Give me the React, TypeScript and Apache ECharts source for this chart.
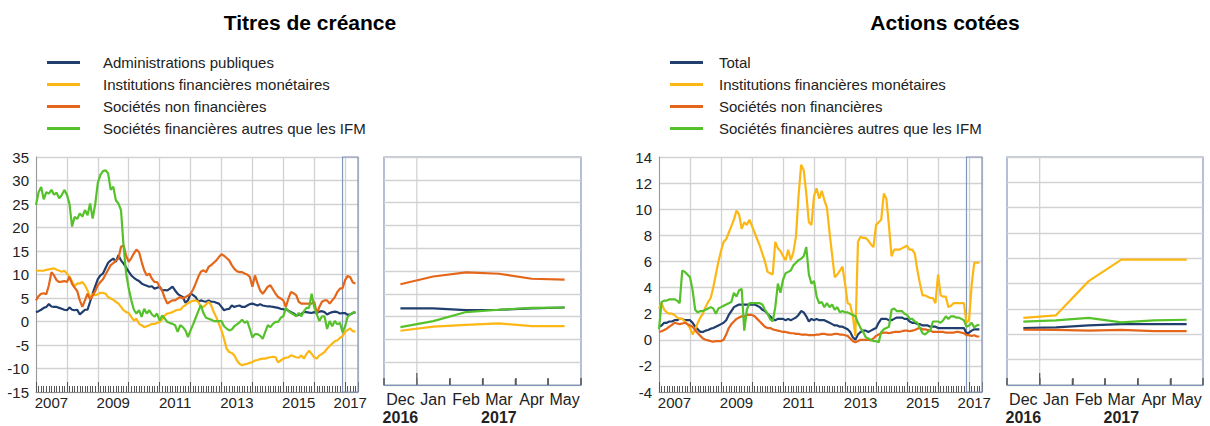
import React, { useEffect, useRef } from "react";
import * as echarts from "echarts";

// ---- axes / categories ----
const startYear = 2007; // month index 0 = Jan 2007, index 124 = May 2017
const axisMonths = 125;
const yearLabelMonths = [6, 30, 54, 78, 102, 122];
const recentMonths = ["Dec", "Jan", "Feb", "Mar", "Apr", "May"];
const recentYearLabels: Record<string, string> = { Dec: "2016", Mar: "2017" };
const highlightStart = 119; // Dec 2016
const yearBoundary = 119.5; // between Dec 2016 and Jan 2017 in the zoomed panel
const monthBoundaries = recentMonths.slice(1).map((_, i) => highlightStart + i + 0.5);

const debtNames = [
  "Administrations publiques",
  "Institutions financières monétaires",
  "Sociétés non financières",
  "Sociétés financières autres que les IFM",
];
const equityNames = [
  "Total",
  "Institutions financières monétaires",
  "Sociétés non financières",
  "Sociétés financières autres que les IFM",
];
const colors = ["#213f6e", "#fdb714", "#e3661a", "#56c22b"];

// ---- Titres de créance (monthly, Jan 2007 - May 2017) ----
const debtGov = [
  2.0, 2.2, 2.5, 2.9, 3.1, 3.7, 3.2, 3.1, 3.1, 2.9,
  2.7, 2.5, 2.4, 3.0, 2.5, 2.4, 2.5, 1.5, 2.0, 2.5,
  2.5, 4.2, 6.0, 7.5, 9.0, 9.8, 10.2, 11.4, 12.5, 13.0,
  13.4, 12.7, 14.1, 13.0, 12.3, 11.5, 10.6, 9.8, 9.3, 8.9,
  8.6, 8.1, 7.8, 7.6, 7.4, 7.5, 7.0, 7.2, 7.4, 6.6,
  6.7, 6.6, 7.0, 7.4, 6.6, 5.9, 5.5, 5.2, 4.0, 4.5,
  6.0, 5.6, 5.2, 4.2, 4.5, 4.3, 4.2, 4.5, 4.2, 4.2,
  4.0, 3.8, 3.1, 2.4, 2.6, 2.7, 3.4, 3.1, 3.3, 3.4,
  3.1, 3.1, 3.4, 3.7, 3.8, 3.6, 3.4, 3.7, 3.4, 3.3,
  3.2, 3.2, 3.1, 3.0, 2.9, 2.7, 2.6, 2.6, 2.3, 2.0,
  1.7, 1.3, 1.4, 1.6, 2.0, 2.0, 1.9, 1.8, 2.0, 1.8,
  2.1, 2.2, 2.0, 1.5, 1.8, 2.0, 2.1, 2.0, 1.7, 1.8,
  1.8, 1.4, 1.5, 1.8, 2.0,
];
const debtMfi = [
  10.9, 10.8, 10.8, 10.8, 11.0, 11.1, 11.2, 11.3, 11.0, 10.8,
  10.6, 10.8, 10.2, 9.5, 8.5, 7.5, 8.1, 8.1, 8.4, 7.7,
  6.6, 5.2, 5.9, 5.6, 5.8, 6.1, 6.1, 5.9, 5.2, 4.9,
  4.6, 4.2, 3.8, 3.1, 2.4, 2.0, 1.8, 1.0, 0.2, 0.6,
  -0.5, -0.8, -1.2, -1.0, -0.8, -0.5, -0.5, -0.3, -0.1, 0.5,
  1.3, 1.7, 1.8, 2.0, 2.3, 2.5, 2.5, 3.1, 3.5, 3.9,
  4.2, 4.4, 4.5, 4.2, 3.1, 3.1, 3.6, 4.2, 3.5, 2.0,
  0.9, -0.5, -1.9, -3.7, -5.8, -6.5, -6.7, -7.2, -8.3, -9.0,
  -9.3, -9.1, -9.0, -8.8, -8.6, -8.3, -8.2, -8.0, -7.9, -7.9,
  -7.7, -7.6, -7.5, -7.6, -8.7, -8.3, -7.9, -7.7, -7.6, -7.2,
  -7.4, -7.6, -7.7, -7.2, -7.9, -6.9, -6.2, -6.9, -7.6, -7.9,
  -7.2, -6.9, -6.5, -5.8, -5.2, -4.7, -4.2, -4.0, -3.5, -3.1,
  -2.2, -1.8, -1.5, -2.1, -2.1,
];
const debtNfc = [
  4.5, 5.4, 5.9, 6.0, 5.8, 7.7, 10.5, 9.8, 8.8, 8.4,
  8.5, 8.6, 8.4, 9.5, 8.0, 7.2, 6.5, 4.5, 3.1, 4.5,
  5.9, 4.7, 5.5, 6.5, 7.7, 8.4, 9.0, 10.0, 11.0, 12.0,
  12.4, 13.0, 13.4, 15.9, 16.2, 14.0, 12.7, 13.5, 14.5, 15.3,
  14.8, 12.7, 10.9, 9.8, 10.2, 9.1, 8.4, 8.4, 7.4, 6.5,
  5.0, 3.8, 4.2, 4.5, 4.5, 4.9, 5.2, 4.9, 5.2, 5.5,
  5.9, 6.8, 8.1, 9.5, 10.6, 10.9, 10.5, 11.6, 12.0, 12.5,
  13.0, 13.7, 14.3, 14.0, 13.5, 13.0, 12.0, 11.2, 10.7, 10.5,
  10.5, 10.2, 10.0, 9.5, 7.4, 9.8, 8.1, 6.6, 5.9, 6.6,
  7.4, 7.7, 6.8, 5.9, 5.2, 4.9, 4.5, 3.1, 4.9, 6.3,
  6.0, 5.6, 4.2, 3.8, 3.8, 3.8, 3.8, 3.8, 4.2, 1.7,
  3.1, 4.2, 4.5, 4.5, 3.8, 4.5, 5.2, 6.3, 7.0, 7.1,
  8.8, 9.7, 9.4, 8.3, 8.1,
];
const debtOfi = [
  24.8, 27.5, 28.6, 26.0, 27.5, 27.2, 28.0, 27.0, 27.4, 26.2,
  26.9, 28.0, 27.0, 25.0, 20.2, 22.3, 21.8, 23.0, 22.3, 23.7,
  22.6, 25.1, 21.9, 25.0, 29.5, 31.2, 32.0, 32.2, 31.5, 28.0,
  28.7, 25.8, 25.1, 23.7, 16.0, 10.2, 7.0, 4.5, 2.5, 1.7,
  2.4, 1.0, 2.7, 1.7, 2.4, 1.5, 1.0, 1.7, 0.2, 1.3,
  0.6, -0.1, -0.3, -0.5, -0.8, -2.2, -0.8, -1.2, -1.9, -3.3,
  -1.9, -0.6, 0.8, 2.2, 3.5, 1.8, 0.8, 0.6, 0.4, 0.1,
  0.1, 0.1, 0.1, -1.0, -1.5, -1.9, -1.7, -1.0, -0.6, -0.2,
  0.4, -0.3, 0.1, -1.6, -3.4, -2.7, -2.7, -3.0, -3.7, -2.2,
  -0.8, -1.2, -0.5, -0.1, -0.1, 0.8, 1.1, 2.9, 2.2, 1.8,
  1.5, 1.1, 1.8, 1.1, 2.2, 2.9, 2.9, 5.9, 3.1, 1.5,
  0.1, 1.1, 1.1, -1.6, 0.1, -1.0, 0.1, -0.6, -0.3, -2.3,
  -1.0, 1.0, 1.5, 1.9, 2.0,
];

// ---- Actions cotées (monthly, Jan 2007 - May 2017) ----
const eqTotal = [
  1.0, 1.1, 1.3, 1.3, 1.4, 1.4, 1.5, 1.5, 1.6, 1.6,
  1.5, 1.5, 1.5, 1.3, 1.0, 0.8, 0.6, 0.6, 0.7, 0.75,
  0.85, 0.9, 1.0, 1.1, 1.2, 1.3, 1.5, 1.9, 2.2, 2.5,
  2.6, 2.7, 2.7, 2.7, 2.7, 2.7, 2.7, 2.7, 2.6, 2.5,
  2.3, 2.2, 2.0, 1.8, 1.6, 1.5, 1.6, 1.6, 1.6, 1.5,
  1.6, 1.5, 1.6, 1.7, 1.9, 2.2, 2.1, 1.8, 1.4, 1.6,
  1.5, 1.6, 1.5, 1.5, 1.5, 1.4, 1.3, 1.2, 1.1, 1.1,
  1.0, 1.0, 0.9, 0.8, 0.6, 0.2, 0.0, 0.4, 0.6, 0.7,
  0.7, 0.6, 0.7, 0.8, 0.9, 1.3, 1.6, 1.6, 1.6, 1.5,
  1.5, 1.6, 1.7, 1.7, 1.7, 1.6, 1.6, 1.4, 1.3, 1.3,
  1.2, 1.2, 1.1, 1.1, 1.1, 1.0, 1.0, 1.0, 0.9, 0.9,
  0.9, 0.9, 0.9, 0.9, 0.9, 0.9, 0.9, 0.9, 0.9, 0.5,
  0.55, 0.7, 0.8, 0.8, 0.8,
];
const eqMfi = [
  2.4, 2.8, 2.3, 2.1, 2.0, 2.0, 1.9, 1.7, 1.6, 1.6,
  1.4, 1.2, 0.9, 0.4, 0.8, 1.3, 1.7, 2.0, 2.5, 2.9,
  3.2, 4.0, 5.0, 6.0, 6.8, 7.5, 7.7, 8.2, 8.7, 9.2,
  9.9, 9.6, 8.5, 9.0, 8.8, 9.2, 8.7, 8.2, 7.7, 7.2,
  6.6, 6.0, 5.2, 5.1, 5.0, 7.5, 7.0, 6.8, 6.4, 6.1,
  6.9, 6.1, 6.7, 7.9, 11.0, 13.4, 13.0, 11.2, 9.0, 8.8,
  11.0, 11.6, 10.8, 11.4, 10.7, 10.1, 8.2, 6.5, 4.8, 5.0,
  5.3, 5.6, 4.3, 2.8, 2.7, 1.8, 0.3, 7.5, 7.9, 7.8,
  7.8, 7.6, 7.3, 7.1, 8.8, 9.0, 9.2, 11.2, 10.8, 8.7,
  6.4, 6.9, 6.9, 6.9, 7.0, 7.1, 7.2, 6.9, 6.9, 6.6,
  5.3, 4.3, 3.4, 3.4, 3.3, 3.2, 3.2, 2.8, 5.0, 3.4,
  3.3, 3.3, 2.5, 2.6, 2.8, 2.8, 2.8, 2.8, 2.8, 1.3,
  1.5, 4.2, 5.9, 5.9, 5.9,
];
const eqNfc = [
  0.6, 0.65, 0.75, 0.85, 1.0, 1.15, 1.3, 1.25, 1.2, 1.25,
  1.3, 1.2, 1.1, 1.0, 0.75, 0.5, 0.3, 0.1, 0.0, -0.05,
  -0.1, -0.15, -0.1, -0.1, -0.1, 0.0, 0.4, 0.9, 1.2, 1.4,
  1.6, 1.7, 1.8, 1.8, 1.9, 1.9, 1.9, 1.8, 1.6, 1.4,
  1.2, 1.0, 0.9, 0.9, 0.8, 0.75, 0.7, 0.65, 0.6, 0.6,
  0.55, 0.5, 0.5, 0.45, 0.45, 0.4, 0.4, 0.4, 0.35, 0.35,
  0.35, 0.4, 0.4, 0.45, 0.45, 0.4, 0.4, 0.4, 0.45, 0.45,
  0.4, 0.4, 0.35, 0.3, 0.1, -0.1, -0.2, -0.1, 0.0, 0.0,
  0.0, 0.0, -0.05, 0.1, 0.3, 0.4, 0.5, 0.55, 0.55, 0.5,
  0.55, 0.6, 0.6, 0.6, 0.65, 0.7, 0.7, 0.65, 0.7, 0.75,
  0.85, 0.9, 0.8, 0.8, 0.75, 0.7, 0.6, 0.6, 0.6, 0.6,
  0.6, 0.55, 0.55, 0.55, 0.55, 0.6, 0.6, 0.55, 0.5, 0.36,
  0.35, 0.3, 0.35, 0.25, 0.25,
];
const eqOfi = [
  0.8, 2.9, 3.0, 3.0, 3.1, 3.1, 3.1, 3.0, 2.8, 5.3,
  5.2, 5.0, 4.8, 3.8, 2.3, 2.1, 2.2, 2.2, 2.3, 2.4,
  2.5, 2.4, 2.0, 2.4, 2.5, 2.6, 2.7, 2.8, 2.9, 3.6,
  3.3, 3.8, 3.9, 0.7, 2.3, 2.8, 2.8, 2.8, 2.8, 2.8,
  2.7, 2.3, 2.0, 1.6, 1.4, 2.5, 4.3, 3.6, 4.6, 5.1,
  5.2, 5.3, 5.7, 5.9, 6.1, 6.2, 6.4, 7.1, 5.0, 4.3,
  4.5, 3.3, 2.8, 2.9, 2.5, 2.8, 2.5, 2.7, 2.3, 2.5,
  2.1, 2.2, 2.1, 2.1, 2.0, 1.9, 1.8, 1.3, 0.9, 0.6,
  0.2, 0.1, 0.0, -0.1, -0.1, -0.2, 0.6, 0.8, 0.9, 1.0,
  2.3, 2.4, 2.2, 2.2, 2.2, 2.0, 1.9, 1.6, 1.6, 1.4,
  1.3, 0.9, 0.5, 0.4, 0.6, 0.7, 1.4, 1.4, 1.4, 1.3,
  1.5, 1.8, 1.6, 1.8, 1.8, 1.7, 1.7, 1.6, 1.5, 1.0,
  1.1, 1.3, 0.95, 1.1, 1.15,
];

const debtSeries = [debtGov, debtMfi, debtNfc, debtOfi];
const equitySeries = [eqTotal, eqMfi, eqNfc, eqOfi];
const debtRange = [-15, 35, 5];
const equityRange = [-4, 14, 2];

const FONT = '"Liberation Sans", Arial, Helvetica, sans-serif';
const GRID_LINE = "#d2d2d2";
const BOX = "#8296b8";
const TICK = "#555";

function mainXAxis(gridIndex: number) {
  return {
    type: "value",
    gridIndex,
    min: 0,
    max: axisMonths,
    interval: 12,
    axisLine: { show: true, onZero: false, lineStyle: { color: "#8a8a8a", width: 1 } },
    axisTick: { show: true, inside: true, length: 10, lineStyle: { color: TICK, width: 1 } },
    minorTick: { show: true, splitNumber: 12, length: 6, lineStyle: { color: TICK, width: 1 } },
    splitLine: { show: true, lineStyle: { color: GRID_LINE, width: 1.3 } },
    axisLabel: {
      customValues: yearLabelMonths,
      formatter: (v: number) => String(startYear + Math.floor(v / 12)),
      fontSize: 15,
      color: "#222",
      margin: 3,
      fontFamily: FONT,
    },
  };
}

const recentLabel = (v: number) => {
  const name = recentMonths[Math.round(v) - highlightStart] || "";
  return recentYearLabels[name] ? `${name}\n{y|${recentYearLabels[name]}}` : name;
};

function smallXAxis(gridIndex: number) {
  return {
    type: "value",
    gridIndex,
    min: highlightStart - 0.5,
    max: highlightStart + recentMonths.length - 0.5,
    interval: 1,
    axisLine: { show: true, onZero: false, lineStyle: { color: BOX, width: 1.2 } },
    axisTick: { show: true, inside: true, length: 7, lineStyle: { color: TICK, width: 1.5 } },
    splitLine: { show: false },
    axisLabel: {
      customValues: recentMonths.map((_, i) => highlightStart + i),
      fontSize: 16,
      color: "#222",
      margin: 5,
      lineHeight: 18,
      fontFamily: FONT,
      formatter: recentLabel,
      rich: { y: { fontWeight: "bold", fontSize: 16, lineHeight: 18, color: "#222", fontFamily: FONT } },
    },
  };
}

function yAxis(gridIndex: number, range: number[], labels: boolean) {
  return {
    type: "value",
    gridIndex,
    min: range[0],
    max: range[1],
    interval: range[2],
    axisLine: { show: labels, onZero: false, lineStyle: { color: "#9a9a9a", width: 1 } },
    axisTick: { show: false },
    splitLine: { show: true, lineStyle: { color: GRID_LINE, width: 1.3 } },
    axisLabel: { show: labels, fontSize: 15, color: "#222", margin: 7, fontFamily: FONT },
  };
}

// month-boundary ticks + Dec/Jan year line of the zoomed panel, drawn through the axes' scales
function boundarySeries(xIdx: number, yIdx: number, range: number[]) {
  return {
    type: "custom",
    xAxisIndex: xIdx,
    yAxisIndex: yIdx,
    silent: true,
    z: 1,
    clip: false,
    data: monthBoundaries.map((b) => [b, range[0]]),
    encode: { x: 0, y: 1 },
    renderItem: (params: any, api: any) => {
      const x = api.value(0);
      const bottom = api.coord([x, range[0]]);
      const top = api.coord([x, range[1]]);
      const isYear = x === yearBoundary;
      const children: any[] = [];
      if (isYear) {
        children.push({
          type: "line",
          shape: { x1: bottom[0], y1: bottom[1], x2: top[0], y2: top[1] },
          style: { stroke: GRID_LINE, lineWidth: 1.3 },
        });
      }
      children.push({
        type: "line",
        shape: { x1: bottom[0], y1: bottom[1], x2: bottom[0], y2: bottom[1] - (isYear ? 12 : 6) },
        style: { stroke: TICK, lineWidth: 1.2 },
      });
      return { type: "group", children };
    },
  };
}

function buildSeries(names: string[], data: number[][], mainX: number, smallX: number, mainY: number) {
  const out: any[] = [];
  data.forEach((values, k) => {
    out.push({
      type: "line",
      name: names[k],
      xAxisIndex: mainX,
      yAxisIndex: mainY,
      data: values.map((v, i) => [i, v]),
      showSymbol: false,
      symbol: "none",
      color: colors[k],
      lineStyle: { color: colors[k], width: 2.2 },
      z: 2 + k,
      markArea:
        k === 0
          ? {
              silent: true,
              itemStyle: { color: "rgba(0,0,0,0)", borderColor: BOX, borderWidth: 1.2 },
              data: [[{ xAxis: highlightStart }, { xAxis: axisMonths }]],
            }
          : undefined,
    });
    out.push({
      type: "line",
      name: names[k],
      xAxisIndex: smallX,
      yAxisIndex: mainY + 1,
      data: values.slice(highlightStart).map((v, i) => [highlightStart + i, v]),
      showSymbol: false,
      symbol: "none",
      color: colors[k],
      lineStyle: { color: colors[k], width: 2.2 },
      z: 2 + k,
    });
  });
  return out;
}

function legend(names: string[], left: number, textGap: number) {
  return {
    data: names,
    orient: "vertical",
    left,
    top: 55,
    padding: 0,
    icon: "rect",
    itemWidth: 33,
    itemHeight: 3,
    itemGap: 7,
    selectedMode: false,
    textStyle: { fontSize: 15, color: "#222", fontFamily: FONT, padding: [0, 0, 0, textGap] },
  };
}

export default function App() {
  const ref = useRef<HTMLDivElement>(null);
  useEffect(() => {
    if (!ref.current) return;
    const chart = echarts.init(ref.current, undefined, { renderer: "svg" });
    const titleStyle = (text: string) => ({
      text,
      font: `bold 21px ${FONT}`,
      fill: "#000",
      align: "center",
      verticalAlign: "middle",
    });
    const option: any = {
      animation: false,
      textStyle: { fontFamily: FONT },
      grid: [
        { left: 36, top: 157, width: 322, height: 235 },
        { left: 384, top: 157, width: 197, height: 235, show: true, borderColor: BOX, borderWidth: 1.2 },
        { left: 659, top: 157, width: 323, height: 235 },
        { left: 1007, top: 157, width: 196, height: 235, show: true, borderColor: BOX, borderWidth: 1.2 },
      ],
      xAxis: [mainXAxis(0), smallXAxis(1), mainXAxis(2), smallXAxis(3)],
      yAxis: [
        yAxis(0, debtRange, true),
        yAxis(1, debtRange, false),
        yAxis(2, equityRange, true),
        yAxis(3, equityRange, false),
      ],
      legend: [legend(debtNames, 47, 18), legend(equityNames, 670, 11)],
      graphic: [
        { type: "text", x: 310, y: 22, style: titleStyle("Titres de créance") },
        { type: "text", x: 945, y: 22, style: titleStyle("Actions cotées") },
      ],
      series: [
        boundarySeries(1, 1, debtRange),
        boundarySeries(3, 3, equityRange),
        ...buildSeries(debtNames, debtSeries, 0, 1, 0),
        ...buildSeries(equityNames, equitySeries, 2, 3, 2),
      ],
    };
    chart.setOption(option);
    return () => chart.dispose();
  }, []);
  return (
    <div
      ref={ref}
      style={{ position: "absolute", left: 0, top: 0, width: 1210, height: 426, background: "#fff" }}
    />
  );
}
